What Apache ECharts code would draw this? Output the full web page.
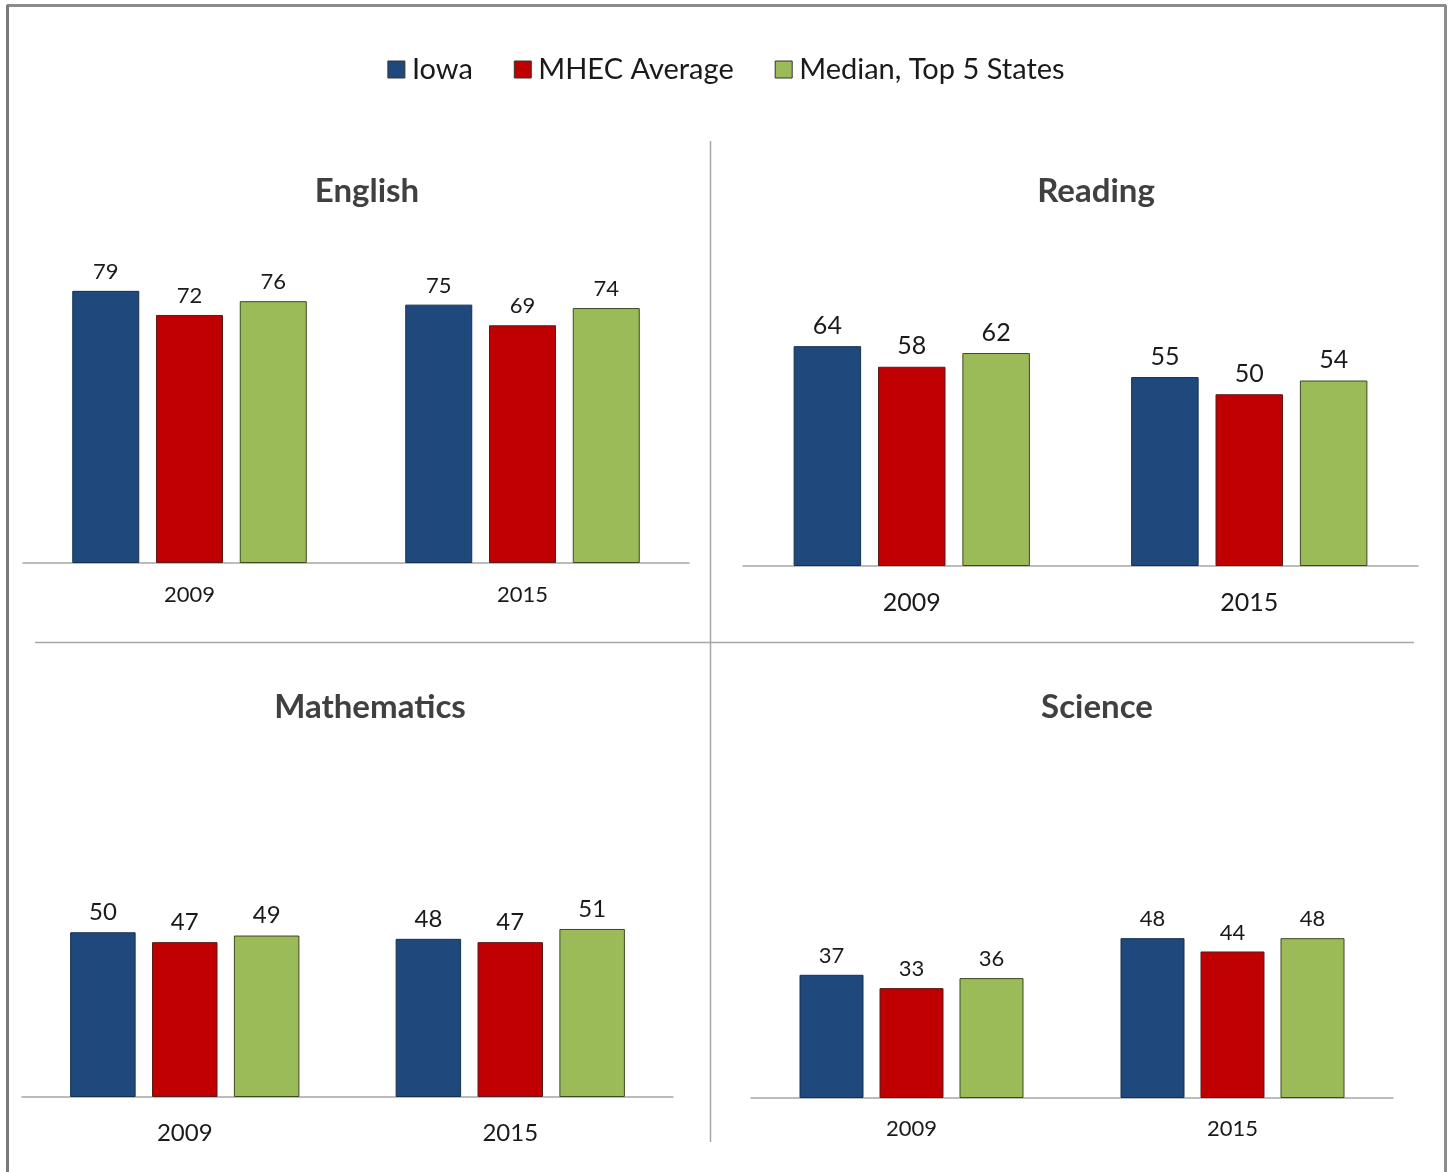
<!DOCTYPE html>
<html>
<head>
<meta charset="utf-8">
<script src="https://cdn.jsdelivr.net/npm/echarts@6/dist/echarts.min.js"></script>
<style>
html,body{margin:0;padding:0;background:#fff;}
#c{width:1452px;height:1172px;}
</style>
</head>
<body>
<div id="c"></div>
<script>
// ---- data ----
const categories = ['2009', '2015'];
const seriesNames = ['Iowa', 'MHEC Average', 'Median, Top 5 States'];
const panelTitles = ['English', 'Reading', 'Mathematics', 'Science'];
const englishIowa = [79, 75];
const englishMhec = [72, 69];
const englishTop5 = [76, 74];
const readingIowa = [64, 55];
const readingMhec = [58, 50];
const readingTop5 = [62, 54];
const mathIowa = [50, 48];
const mathMhec = [47, 47];
const mathTop5 = [49, 51];
const scienceIowa = [37, 48];
const scienceMhec = [33, 44];
const scienceTop5 = [36, 48];

const panelData = [
  [englishIowa, englishMhec, englishTop5],
  [readingIowa, readingMhec, readingTop5],
  [mathIowa, mathMhec, mathTop5],
  [scienceIowa, scienceMhec, scienceTop5]
];

// ---- layout / style ----
const colors = ['#1F497D', '#C00000', '#9BBB59'];
const borders = ['#14304f', '#5a1a1a', '#3a4a20'];
const FONT = 'Lato, "Open Sans", sans-serif';
const grids = [
  {left: 23, top: 218.5, width: 666, height: 344.5},
  {left: 743, top: 222.5, width: 675, height: 343.5},
  {left: 22, top: 767.5, width: 651, height: 329.5},
  {left: 751, top: 765, width: 642, height: 333}
];
const barWidths = [67, 67.5, 65.5, 64];
const labelSizes = [22, 25, 24, 22];
const catSizes = [22, 25, 24, 22];
const catMargins = [21, 24.5, 24, 20];
const titlePos = [[367, 191], [1096, 191], [370, 707], [1097, 707]];

const xAxes = [], yAxes = [], series = [];
grids.forEach((g, i) => {
  xAxes.push({
    type: 'category', gridIndex: i, data: categories,
    axisLine: {show: true, lineStyle: {color: '#a6a6a6', width: 1.5}},
    axisTick: {show: false},
    axisLabel: {fontFamily: FONT, fontSize: catSizes[i], color: '#1a1a1a', margin: catMargins[i], lineHeight: catSizes[i]},
    splitLine: {show: false}
  });
  yAxes.push({
    type: 'value', gridIndex: i, min: 0, max: 100,
    show: false, splitLine: {show: false}
  });
  panelData[i].forEach((vals, s) => {
    series.push({
      name: seriesNames[s], type: 'bar', xAxisIndex: i, yAxisIndex: i,
      data: vals, barWidth: barWidths[i], barGap: '25%',
      itemStyle: {color: colors[s], borderColor: borders[s], borderWidth: 1},
      label: {show: true, position: 'top', distance: 8, fontFamily: FONT,
              fontSize: labelSizes[i], color: '#1a1a1a'},
      emphasis: {disabled: true}, animation: false
    });
  });
});

const graphics = [
  // outer frame
  {type: 'line', shape: {x1: 7, y1: 5.5, x2: 1446, y2: 5.5}, style: {stroke: '#8c8c8c', lineWidth: 3}},
  {type: 'line', shape: {x1: 7.5, y1: 5, x2: 7.5, y2: 1172}, style: {stroke: '#7a7a7a', lineWidth: 3}},
  {type: 'line', shape: {x1: 1445.5, y1: 5, x2: 1445.5, y2: 1172}, style: {stroke: '#8c8c8c', lineWidth: 3}},
  // dividers
  {type: 'line', shape: {x1: 710.5, y1: 141, x2: 710.5, y2: 1142}, style: {stroke: '#a6a6a6', lineWidth: 1.5}},
  {type: 'line', shape: {x1: 35, y1: 642.5, x2: 1414, y2: 642.5}, style: {stroke: '#a6a6a6', lineWidth: 1.5}}
];
panelTitles.forEach((t, i) => {
  graphics.push({
    type: 'text', x: titlePos[i][0], y: titlePos[i][1],
    style: {text: t, fontFamily: FONT, fontWeight: 'bold', fontSize: 33, fill: '#404040',
            align: 'center', verticalAlign: 'middle'}
  });
});

const chart = echarts.init(document.getElementById('c'), null, {renderer: 'canvas'});
chart.setOption({
  animation: false,
  backgroundColor: '#fff',
  legend: {
    data: seriesNames, top: 50, left: 'center',
    itemWidth: 17, itemHeight: 17, itemGap: 41, icon: 'rect',
    itemStyle: {borderColor: '#333', borderWidth: 1},
    textStyle: {fontFamily: FONT, fontSize: 29, color: '#1a1a1a', padding: [0, 0, 0, 2]},
    selectedMode: false
  },
  grid: grids.map(g => Object.assign({containLabel: false}, g)),
  xAxis: xAxes,
  yAxis: yAxes,
  series: series,
  graphic: graphics
});
</script>
</body>
</html>
